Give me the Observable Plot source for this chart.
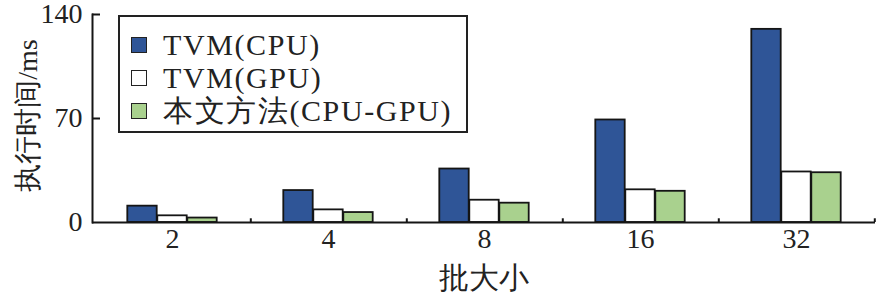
<!DOCTYPE html>
<html>
<head>
<meta charset="utf-8">
<script src="https://cdn.jsdelivr.net/npm/d3@7"></script>
<script src="https://cdn.jsdelivr.net/npm/@observablehq/plot@0.6"></script>
<style>
  html, body { margin: 0; padding: 0; background: #fff; }
  #wrap { position: relative; width: 880px; height: 296px; }
  #legend {
    position: absolute; left: 118px; top: 15px; width: 346px; height: 114px;
    border: 2px solid #222; background: #fff; box-sizing: content-box;
    font-family: "Liberation Serif", "Times New Roman", Tinos, "DejaVu Serif", serif; font-size: 30px; color: #222;
    letter-spacing: 1.6px;
  }
  .row { position: absolute; left: 11px; height: 34px; display: flex; align-items: center; white-space: nowrap; }
  .sw { width: 14px; height: 14px; border: 1.6px solid #222; margin-right: 16px; flex: none; }
</style>
</head>
<body>
<div id="wrap"><div id="chart"></div><div id="legend"></div></div>
<script>
const batches = ["2", "4", "8", "16", "32"];
const seriesNames = ["TVM(CPU)", "TVM(GPU)", "本文方法(CPU-GPU)"];
const cpuValues = [11, 21.5, 36, 69, 130];
const gpuValues = [4.5, 8.5, 15, 22, 34];
const oursValues = [3, 6.7, 13, 21, 33.5];
const yTicks = [0, 70, 140];
const colors = ["#2F5597", "#FFFFFF", "#A9D18E"];

const width = 880, height = 296;
const marginLeft = 92, marginRight = 5, marginTop = 14, marginBottom = 74;
const frameW = width - marginLeft - marginRight;
const bw = frameW / batches.length;
const barW = 30;

const seriesValues = [cpuValues, gpuValues, oursValues];
const data = [];
seriesValues.forEach((vals, s) => vals.forEach((v, i) => data.push({batch: batches[i], series: seriesNames[s], value: v, s})));

const serif = "'Liberation Serif', 'Times New Roman', Tinos, 'DejaVu Serif', serif";
const textColor = "#222";

const barMarks = seriesNames.map((name, s) => {
  const insetLeft = bw / 2 - 1.5 * barW + s * barW;
  return Plot.barY(data.filter(d => d.s === s), {
    x: "batch", y: "value", fill: colors[s], stroke: "#151515", strokeWidth: 1.8,
    insetLeft, insetRight: bw - insetLeft - barW
  });
});

const chart = Plot.plot({
  width, height, marginLeft, marginRight, marginTop, marginBottom,
  style: {fontFamily: serif, color: textColor, background: "#fff"},
  x: {domain: batches, padding: 0, axis: null},
  y: {domain: [0, 140], axis: null},
  marks: [
    ...barMarks,
    Plot.ruleY([0], {stroke: "#151515", strokeWidth: 2}),
    Plot.frame({anchor: "left", stroke: "#151515", strokeWidth: 2}),
    Plot.ruleY(yTicks.slice(1), {stroke: "#151515", strokeWidth: 2, insetRight: frameW - 8}),
    Plot.ruleX(batches, {x: d => d, dx: bw / 2, y1: 0, y2: 2.5, stroke: "#151515", strokeWidth: 2}),
    Plot.axisY(yTicks, {tickSize: 0, tickPadding: 10, fontSize: 28, fill: textColor, fontFamily: serif, label: null}),
    Plot.axisX(batches, {tickSize: 0, tickPadding: 6, fontSize: 28, fill: textColor, fontFamily: serif, label: null}),
    Plot.text(["执行时间/ms"], {frameAnchor: "left", textAnchor: "middle", dx: -64, dy: -3, rotate: -90, fontSize: 28, fill: textColor, fontFamily: serif}),
    Plot.text(["批大小"], {frameAnchor: "bottom", textAnchor: "middle", dy: 56, lineAnchor: "middle", fontSize: 30, fill: textColor, fontFamily: serif})
  ]
});
document.getElementById("chart").appendChild(chart);

const legend = document.getElementById("legend");
const rowTops = [11, 44, 77];
seriesNames.forEach((name, s) => {
  const row = document.createElement("div");
  row.className = "row";
  row.style.top = rowTops[s] + "px";
  const sw = document.createElement("div");
  sw.className = "sw";
  sw.style.background = colors[s];
  const t = document.createElement("span");
  t.textContent = name;
  row.appendChild(sw); row.appendChild(t);
  legend.appendChild(row);
});
</script>
</body>
</html>
